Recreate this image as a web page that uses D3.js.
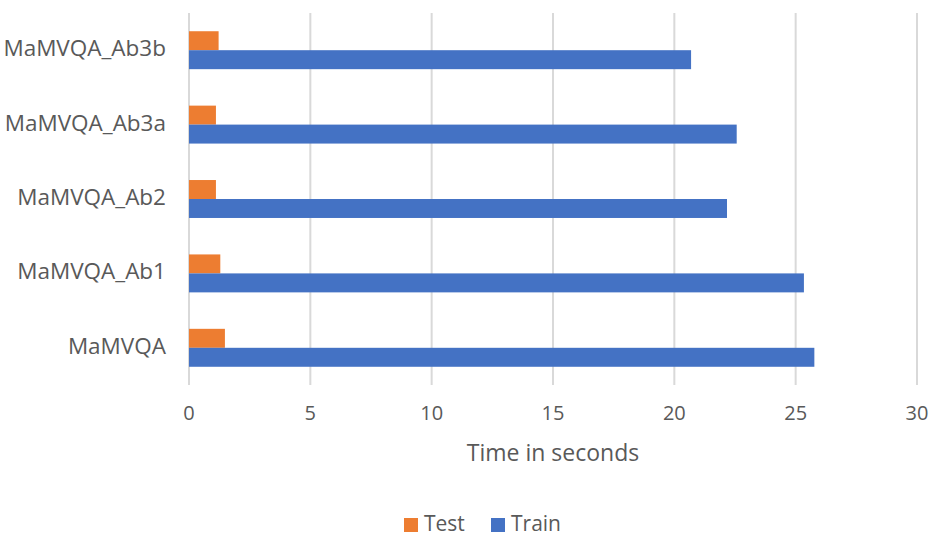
<!DOCTYPE html>
<html>
<head>
<meta charset="utf-8">
<script src="https://cdn.jsdelivr.net/npm/d3@7"></script>
<style>
  body { margin: 0; background: #fff; }
  text { font-family: "Open Sans", sans-serif; fill: #595959; }
</style>
</head>
<body>
<div id="chart"></div>
<script>
// chart data, top to bottom
const categories = ['MaMVQA_Ab3b', 'MaMVQA_Ab3a', 'MaMVQA_Ab2', 'MaMVQA_Ab1', 'MaMVQA'];
const testValues = [1.22, 1.11, 1.11, 1.29, 1.48];
const trainValues = [20.69, 22.57, 22.17, 25.34, 25.77];
const seriesNames = ['Test', 'Train'];
const xTicks = [0, 5, 10, 15, 20, 25, 30];

const w = 937, h = 536;
const margin = {top: 13, right: 20, bottom: 151, left: 189};
const innerW = 917 - margin.left;
const innerH = 385 - margin.top;
const colors = {Test: '#ED7D31', Train: '#4472C4'};

const svg = d3.select('#chart')
              .append('svg')
              .attr('width', w)
              .attr('height', h);

const g = svg.append('g')
             .attr('transform', 'translate(' + margin.left + ',' + margin.top + ')');

const x = d3.scaleLinear().domain([0, 30]).range([0, innerW]);
const y = d3.scaleBand().domain(categories).range([0, innerH]).paddingInner(0.49).paddingOuter(0.245);
const ySub = d3.scaleBand().domain(seriesNames).range([0, y.bandwidth()]);

// gridlines
g.selectAll('.grid')
 .data(xTicks)
 .enter()
 .append('line')
 .attr('x1', d => x(d))
 .attr('x2', d => x(d))
 .attr('y1', 0)
 .attr('y2', innerH)
 .attr('stroke', '#D9D9D9')
 .attr('stroke-width', 2);

const rows = categories.map((c, i) => ({cat: c, Test: testValues[i], Train: trainValues[i]}));

const group = g.selectAll('.row')
               .data(rows)
               .enter()
               .append('g')
               .attr('transform', d => 'translate(0,' + y(d.cat) + ')');

group.selectAll('rect')
     .data(d => seriesNames.map(s => ({s: s, v: d[s]})))
     .enter()
     .append('rect')
     .attr('x', x(0))
     .attr('y', d => ySub(d.s))
     .attr('width', d => x(d.v) - x(0))
     .attr('height', ySub.bandwidth())
     .attr('fill', d => colors[d.s]);

// category labels
g.selectAll('.cat')
 .data(categories)
 .enter()
 .append('text')
 .attr('x', -23)
 .attr('y', d => y(d) + y.bandwidth() / 2)
 .attr('text-anchor', 'end')
 .attr('dominant-baseline', 'middle')
 .attr('font-size', '22.5px')
 .text(d => d);

// x tick labels
g.selectAll('.tick')
 .data(xTicks)
 .enter()
 .append('text')
 .attr('x', d => x(d))
 .attr('y', innerH + 30)
 .attr('text-anchor', 'middle')
 .attr('dominant-baseline', 'middle')
 .attr('font-size', '20px')
 .text(d => d);

// axis title
svg.append('text')
   .attr('x', margin.left + innerW / 2)
   .attr('y', 455)
   .attr('text-anchor', 'middle')
   .attr('dominant-baseline', 'middle')
   .attr('font-size', '23px')
   .text('Time in seconds');

// legend
const legend = svg.append('g').attr('transform', 'translate(404,518)');
const legendX = [0, 87];
const item = legend.selectAll('g')
                   .data(seriesNames)
                   .enter()
                   .append('g')
                   .attr('transform', (d, i) => 'translate(' + legendX[i] + ',0)');
item.append('rect')
    .attr('width', 14)
    .attr('height', 14)
    .attr('fill', d => colors[d]);
item.append('text')
    .attr('x', 20)
    .attr('y', 7)
    .attr('dominant-baseline', 'middle')
    .attr('font-size', '21px')
    .text(d => d);
</script>
</body>
</html>
